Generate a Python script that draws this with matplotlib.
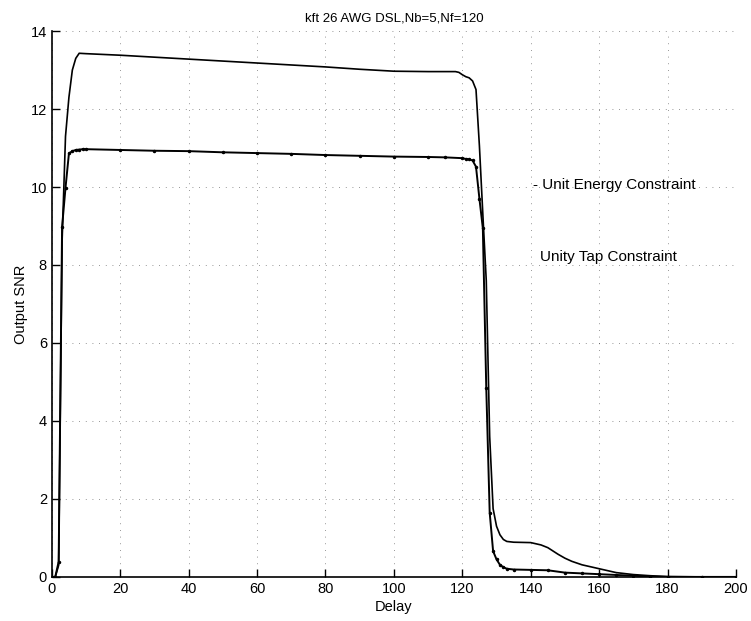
import matplotlib
matplotlib.use("Agg")
import matplotlib.pyplot as plt

# Unit energy constraint (solid line)
energy_delay = [0, 1, 2, 3, 4, 5, 6, 7, 8, 10, 20, 30, 40, 50, 60, 70, 80, 90, 100,
                110, 118, 119, 120, 121, 122, 123, 124, 125, 126, 127, 128, 129, 130,
                131, 132, 133, 135, 140, 143, 145, 148, 150, 152, 155, 158, 160, 165,
                170, 175, 180, 190, 200]
energy_snr = [0, 0, 0.3, 8.6, 11.3, 12.3, 13.0, 13.3, 13.43, 13.42, 13.38, 13.33, 13.28,
              13.23, 13.18, 13.13, 13.08, 13.02, 12.97, 12.96, 12.96, 12.94, 12.88, 12.83,
              12.8, 12.72, 12.5, 11.05, 9.3, 7.6, 3.6, 1.75, 1.3, 1.08, 0.96, 0.91, 0.89,
              0.88, 0.82, 0.75, 0.58, 0.48, 0.4, 0.31, 0.25, 0.21, 0.11, 0.06, 0.03, 0.01,
              0, 0]

# Unity tap constraint (dotted markers)
tap_delay = [0, 1, 2, 3, 4, 5, 6, 7, 8, 9, 10, 20, 30, 40, 50, 60, 70, 80, 90, 100, 110,
             115, 120, 121, 122, 123, 124, 125, 126, 127, 128, 129, 130, 131, 132, 133,
             135, 140, 145, 150, 155, 160, 165, 170, 175, 180, 190, 200]
tap_snr = [0, 0, 0.39, 8.98, 9.98, 10.86, 10.92, 10.95, 10.96, 10.97, 10.97, 10.95, 10.93,
           10.92, 10.89, 10.87, 10.85, 10.82, 10.8, 10.78, 10.77, 10.76, 10.74, 10.72,
           10.71, 10.68, 10.52, 9.7, 8.94, 4.85, 1.65, 0.66, 0.45, 0.31, 0.25, 0.21, 0.19,
           0.18, 0.17, 0.11, 0.09, 0.07, 0.05, 0.03, 0.01, 0, 0, 0]

x_ticks = list(range(0, 201, 20))
y_ticks = list(range(0, 15, 2))

plt.rcParams["font.family"] = ["Liberation Sans", "DejaVu Sans"]

fig = plt.figure(figsize=(7.51, 6.21), dpi=100)
ax = fig.add_axes([0.069, 0.071, 0.911, 0.879])

ax.plot(energy_delay, energy_snr, color="black", lw=1.2)
# dense dots merge into a thick line on the plateau; only the dots show on the drop
ax.plot(tap_delay, tap_snr, color="black", lw=1.4)
ax.plot(tap_delay, tap_snr, ".", color="black", ms=3)

ax.set_xlim(0, 200)
ax.set_ylim(0, 14)
ax.set_xticks(x_ticks)
ax.set_yticks(y_ticks)
ax.tick_params(direction="in", length=6, width=1, labelsize=10.5, colors="black")
ax.grid(True, linestyle=(0, (1, 7)), color="black", lw=0.6, alpha=0.55)

for side in ("top", "right"):
    ax.spines[side].set_visible(False)
for side in ("left", "bottom"):
    ax.spines[side].set_linewidth(1.2)

ax.set_xlabel("Delay", fontsize=10.5, labelpad=3)
ax.set_ylabel("Output SNR", fontsize=10.5, labelpad=2)
ax.set_title("kft 26 AWG DSL,Nb=5,Nf=120", fontsize=9.5, pad=7)

ax.text(140.6, 10.05, "- Unit Energy Constraint", fontsize=11, va="center")
ax.text(142.7, 8.21, "Unity Tap Constraint", fontsize=11, va="center")

fig.savefig("out.png", dpi=100)
